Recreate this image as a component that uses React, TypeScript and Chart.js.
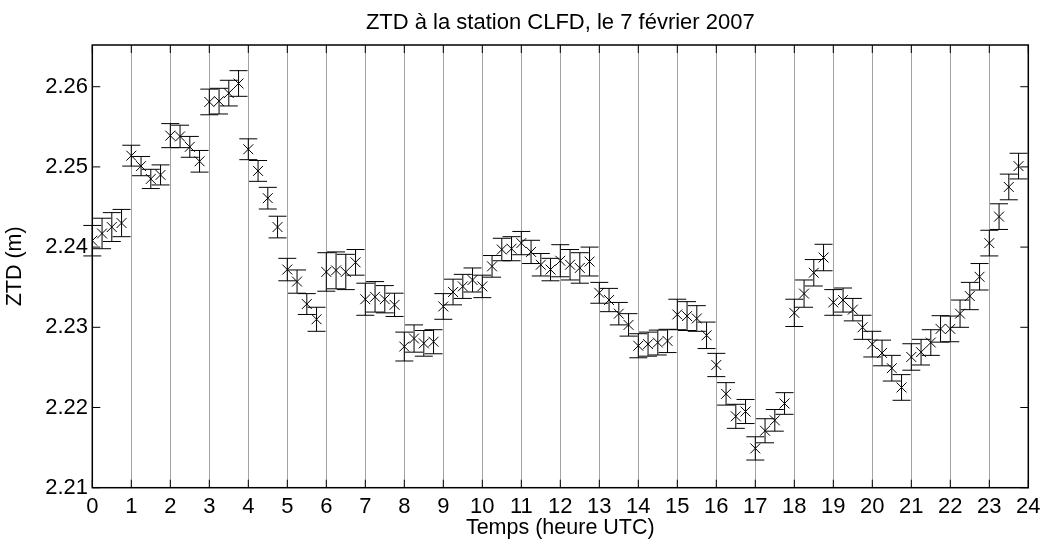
import React, { useEffect, useRef } from 'react';
import { Chart, registerables } from 'chart.js';

Chart.register(...registerables);

const chartTitle = 'ZTD à la station CLFD, le 7 février 2007';
const xAxisTitle = 'Temps (heure UTC)';
const yAxisTitle = 'ZTD (m)';

const hourTicks = [0, 1, 2, 3, 4, 5, 6, 7, 8, 9, 10, 11, 12, 13, 14, 15, 16, 17, 18, 19, 20, 21, 22, 23, 24];
const ztdTicks = [2.21, 2.22, 2.23, 2.24, 2.25, 2.26];

const times = [
  0, 0.25, 0.5, 0.75, 1, 1.25, 1.5, 1.75, 2, 2.25, 2.5, 2.75,
  3, 3.25, 3.5, 3.75, 4, 4.25, 4.5, 4.75, 5, 5.25, 5.5, 5.75,
  6, 6.25, 6.5, 6.75, 7, 7.25, 7.5, 7.75, 8, 8.25, 8.5, 8.75,
  9, 9.25, 9.5, 9.75, 10, 10.25, 10.5, 10.75, 11, 11.25, 11.5, 11.75,
  12, 12.25, 12.5, 12.75, 13, 13.25, 13.5, 13.75, 14, 14.25, 14.5, 14.75,
  15, 15.25, 15.5, 15.75, 16, 16.25, 16.5, 16.75, 17, 17.25, 17.5, 17.75,
  18, 18.25, 18.5, 18.75, 19, 19.25, 19.5, 19.75, 20, 20.25, 20.5, 20.75,
  21, 21.25, 21.5, 21.75, 22, 22.25, 22.5, 22.75, 23, 23.25, 23.5, 23.75,
];

const ztd = [
  2.2408, 2.2417, 2.2425, 2.2430, 2.2514, 2.2501, 2.2485, 2.2490, 2.2539, 2.2538, 2.2525, 2.2507,
  2.2581, 2.2582, 2.2592, 2.2604, 2.2522, 2.2495, 2.2461, 2.2425, 2.2372, 2.2357, 2.2329, 2.2310,
  2.2369, 2.2371, 2.2369, 2.2381, 2.2335, 2.2338, 2.2335, 2.2328, 2.2276, 2.2286, 2.2280, 2.2282,
  2.2326, 2.2344, 2.2351, 2.2359, 2.2351, 2.2376, 2.2397, 2.2398, 2.2405, 2.2394, 2.2378, 2.2372,
  2.2383, 2.2378, 2.2374, 2.2382, 2.2343, 2.2334, 2.2317, 2.2303, 2.2277, 2.2279, 2.2281, 2.2283,
  2.2316, 2.2314, 2.2311, 2.2290, 2.2253, 2.2217, 2.2189, 2.2195, 2.2149, 2.2171, 2.2184, 2.2205,
  2.2318, 2.2342, 2.2368, 2.2387, 2.2331, 2.2334, 2.2322, 2.2300, 2.2279, 2.2268, 2.2249, 2.2225,
  2.2263, 2.2269, 2.2281, 2.2298, 2.2298, 2.2317, 2.2339, 2.2363, 2.2405, 2.2438, 2.2475, 2.2501,
];

const ztdErr = [
  0.0019, 0.0019, 0.0018, 0.0017, 0.0013, 0.0012, 0.0012, 0.00125, 0.0015, 0.0014, 0.0013, 0.00135,
  0.0016, 0.0016, 0.0016, 0.0016, 0.0013, 0.0013, 0.00135, 0.00135, 0.0014, 0.00145, 0.0013, 0.0015,
  0.0024, 0.0023, 0.0022, 0.0016, 0.0020, 0.0019, 0.0017, 0.00145, 0.0018, 0.0017, 0.0016, 0.0015,
  0.0016, 0.0016, 0.0015, 0.0015, 0.0014, 0.00135, 0.0014, 0.0015, 0.00145, 0.00145, 0.0014, 0.0014,
  0.0020, 0.0019, 0.0019, 0.0018, 0.0013, 0.00145, 0.0014, 0.0014, 0.0015, 0.0015, 0.00155, 0.00145,
  0.0019, 0.0018, 0.0016, 0.00165, 0.00145, 0.0014, 0.0015, 0.0015, 0.00145, 0.0015, 0.00135, 0.00135,
  0.0017, 0.0017, 0.00165, 0.00165, 0.0016, 0.0015, 0.0014, 0.0015, 0.0016, 0.0016, 0.0016, 0.0016,
  0.00165, 0.0016, 0.0016, 0.00165, 0.0016, 0.0017, 0.0017, 0.00165, 0.0016, 0.0016, 0.0016, 0.0016,
];

const FONT = "'Liberation Sans', Arial, sans-serif";

export default function App() {
  const canvasRef = useRef<HTMLCanvasElement>(null);

  useEffect(() => {
    document.body.style.margin = '0';
    const canvas = canvasRef.current;
    if (!canvas) return;

    const errorBars = {
      id: 'errorBars',
      beforeDatasetsDraw(chart: any) {
        const { ctx, scales } = chart;
        const xs = scales.x;
        const ys = scales.y;
        ctx.save();
        ctx.strokeStyle = '#000';
        ctx.lineWidth = 1;
        const cap = 9;
        times.forEach((t, i) => {
          const px = xs.getPixelForValue(t);
          const top = ys.getPixelForValue(ztd[i] + ztdErr[i]);
          const bot = ys.getPixelForValue(ztd[i] - ztdErr[i]);
          ctx.beginPath();
          ctx.moveTo(px, top);
          ctx.lineTo(px, bot);
          ctx.moveTo(px - cap, top);
          ctx.lineTo(px + cap, top);
          ctx.moveTo(px - cap, bot);
          ctx.lineTo(px + cap, bot);
          ctx.stroke();
        });
        ctx.restore();
      },
    };

    const frame = {
      id: 'frame',
      afterDraw(chart: any) {
        const { ctx, chartArea, scales } = chart;
        const { left, right, top, bottom } = chartArea;
        const tick = 8;
        ctx.save();
        ctx.strokeStyle = '#000';
        ctx.lineWidth = 1;
        ctx.beginPath();
        hourTicks.forEach((h) => {
          const px = scales.x.getPixelForValue(h);
          ctx.moveTo(px, bottom);
          ctx.lineTo(px, bottom - tick);
          ctx.moveTo(px, top);
          ctx.lineTo(px, top + tick);
        });
        ztdTicks.forEach((v) => {
          const py = scales.y.getPixelForValue(v);
          ctx.moveTo(left, py);
          ctx.lineTo(left + tick, py);
          ctx.moveTo(right, py);
          ctx.lineTo(right - tick, py);
        });
        ctx.stroke();
        ctx.lineWidth = 1.5;
        ctx.strokeRect(left, top, right - left, bottom - top);
        ctx.restore();
      },
    };

    const chart = new Chart(canvas, {
      type: 'scatter',
      data: {
        datasets: [
          {
            label: 'ZTD',
            data: times.map((t, i) => ({ x: t, y: ztd[i] })),
            pointStyle: 'crossRot',
            pointRadius: 7,
            pointHoverRadius: 7,
            borderColor: '#000',
            backgroundColor: '#000',
            pointBorderWidth: 1,
            showLine: false,
          },
        ],
      },
      options: {
        animation: false,
        responsive: false,
        devicePixelRatio: 1,
        events: [],
        layout: { padding: { left: 0, right: 14.7, top: 0, bottom: 0 } },
        plugins: {
          legend: { display: false },
          tooltip: { enabled: false },
          title: {
            display: true,
            fullSize: false,
            text: chartTitle,
            color: '#000',
            font: { family: FONT, size: 22, weight: 'normal' },
            padding: { top: 9.4, bottom: 9.2 },
          },
        },
        scales: {
          x: {
            type: 'linear',
            min: 0,
            max: 24,
            afterBuildTicks: (scale: any) => {
              scale.ticks = hourTicks.map((v) => ({ value: v }));
            },
            afterFit: (scale: any) => {
              scale.height = 53.3;
              scale.paddingLeft = 0;
              scale.paddingRight = 0;
            },
            grid: { display: true, color: '#a3a3a3', lineWidth: 1, drawTicks: false },
            border: { display: false },
            ticks: {
              color: '#000',
              padding: 6.5,
              maxRotation: 0,
              autoSkip: false,
              font: { family: FONT, size: 22 },
              callback: (v: any) => String(v),
            },
            title: {
              display: true,
              text: xAxisTitle,
              color: '#000',
              font: { family: FONT, size: 21.5 },
              padding: { top: 0, bottom: 0 },
            },
          },
          y: {
            type: 'linear',
            min: 2.21,
            max: 2.2652,
            afterBuildTicks: (scale: any) => {
              scale.ticks = ztdTicks.map((v) => ({ value: v }));
            },
            afterFit: (scale: any) => {
              scale.width = 92.3;
              scale.paddingTop = 0;
              scale.paddingBottom = 0;
            },
            grid: { display: false, drawTicks: false },
            border: { display: false },
            ticks: {
              color: '#000',
              padding: 4.3,
              autoSkip: false,
              font: { family: FONT, size: 22 },
              callback: (v: any) => Number(v).toFixed(2),
            },
            title: {
              display: true,
              text: yAxisTitle,
              color: '#000',
              font: { family: FONT, size: 21.5 },
              padding: { top: 2.5, bottom: 0 },
            },
          },
        },
      },
      plugins: [errorBars, frame],
    } as any);

    return () => chart.destroy();
  }, []);

  return (
    <div style={{ position: 'absolute', left: 0, top: 0, width: 1043, height: 541, background: '#fff' }}>
      <canvas ref={canvasRef} width={1043} height={541} style={{ display: 'block' }} />
    </div>
  );
}
